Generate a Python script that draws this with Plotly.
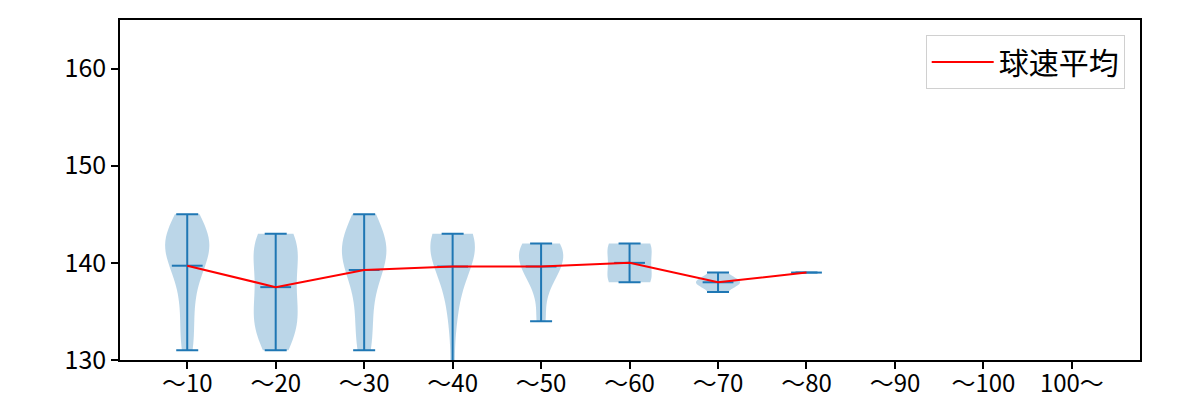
import numpy as np
import plotly.graph_objects as go

categories = ["〜10", "〜20", "〜30", "〜40", "〜50", "〜60", "〜70", "〜80", "〜90", "〜100", "100〜"]

# pitch speeds (km/h) per pitch-count bucket
speeds = {
    "〜10": [131, 132, 134, 136, 138, 139, 140, 141, 141, 142, 142, 142, 142, 143, 143, 144, 145],
    "〜20": [131, 132, 133, 134, 134, 135, 136, 137, 138, 139, 140, 141, 142, 142, 143, 143],
    "〜30": [131, 132, 134, 136, 138, 139, 140, 141, 141, 141, 142, 142, 143, 144, 145],
    "〜40": [127, 134, 137, 139, 141, 141, 141, 142, 142, 142, 143, 143, 143],
    "〜50": [134, 138, 139, 140, 141, 141, 142, 142],
    "〜60": [138, 138, 140, 142, 142],
    "〜70": [137, 138, 138, 138, 139],
    "〜80": [139],
    "〜90": [],
    "〜100": [],
    "100〜": [],
}

legend_label = "球速平均"
y_ticks = [130, 140, 150, 160]

BLUE = "#1f77b4"
FONT = "Noto Sans CJK JP"

fig = go.Figure()

# violin bodies (Scott's rule bandwidth, cut at data extremes)
for cat in categories:
    vals = np.array(speeds[cat], dtype=float)
    if len(vals) < 2:
        continue
    bw = vals.std(ddof=1) * len(vals) ** (-1 / 5)
    fig.add_trace(go.Violin(
        x=[cat] * len(vals), y=vals,
        width=0.5, spanmode="hard", scalemode="width",
        bandwidth=bw, points=False,
        fillcolor="rgba(31,119,180,0.3)",
        line=dict(width=0, color="rgba(31,119,180,0.3)"),
        box_visible=False, meanline_visible=False,
        showlegend=False, hoverinfo="skip",
    ))

# min / max / mean bars
cap_x, cap_mean, cap_up, cap_down = [], [], [], []
for cat in categories:
    vals = np.array(speeds[cat], dtype=float)
    if len(vals) == 0:
        continue
    m = vals.mean()
    cap_x.append(cat)
    cap_mean.append(m)
    cap_up.append(vals.max() - m)
    cap_down.append(m - vals.min())

fig.add_trace(go.Scatter(
    x=cap_x, y=cap_mean, mode="markers",
    marker=dict(symbol="line-ew", size=22, line=dict(width=2, color=BLUE), color=BLUE),
    error_y=dict(type="data", symmetric=False, array=cap_up, arrayminus=cap_down,
                 color=BLUE, thickness=2, width=11),
    showlegend=False, hoverinfo="skip",
))

# mean line
mean_y = [float(np.mean(speeds[c])) if len(speeds[c]) else None for c in categories]
fig.add_trace(go.Scatter(
    x=categories, y=mean_y, mode="lines",
    line=dict(color="red", width=2),
    name=legend_label, showlegend=True,
))

fig.update_layout(
    width=1200, height=400,
    margin=dict(l=120, r=60, t=20, b=40),
    paper_bgcolor="white", plot_bgcolor="white",
    violinmode="overlay",
    font=dict(family=FONT, size=25, color="black"),
    showlegend=True,
    legend=dict(
        x=0.985, y=0.956, xanchor="right", yanchor="top",
        bgcolor="white", bordercolor="#d0d0d0", borderwidth=1,
        itemwidth=62,
        font=dict(family=FONT, size=30, color="black"),
    ),
)
fig.update_xaxes(
    type="category", categoryorder="array", categoryarray=categories,
    tickvals=categories, range=[-0.76, 10.77], automargin=False,
    tickfont=dict(size=24), ticklabelstandoff=-6,
    showline=True, mirror=True, linecolor="black", linewidth=1.5,
    ticks="outside", ticklen=7, tickwidth=1.5, tickcolor="black",
    showgrid=False, zeroline=False,
)
fig.update_yaxes(
    range=[130, 165], tickvals=y_ticks, automargin=False,
    showline=True, mirror=True, linecolor="black", linewidth=1.5,
    ticks="outside", ticklen=7, tickwidth=1.5, tickcolor="black",
    showgrid=False, zeroline=False,
)

fig.write_html(
    "out.html",
    config={"displayModeBar": False},
    post_script="document.body.style.margin='0';",
)
